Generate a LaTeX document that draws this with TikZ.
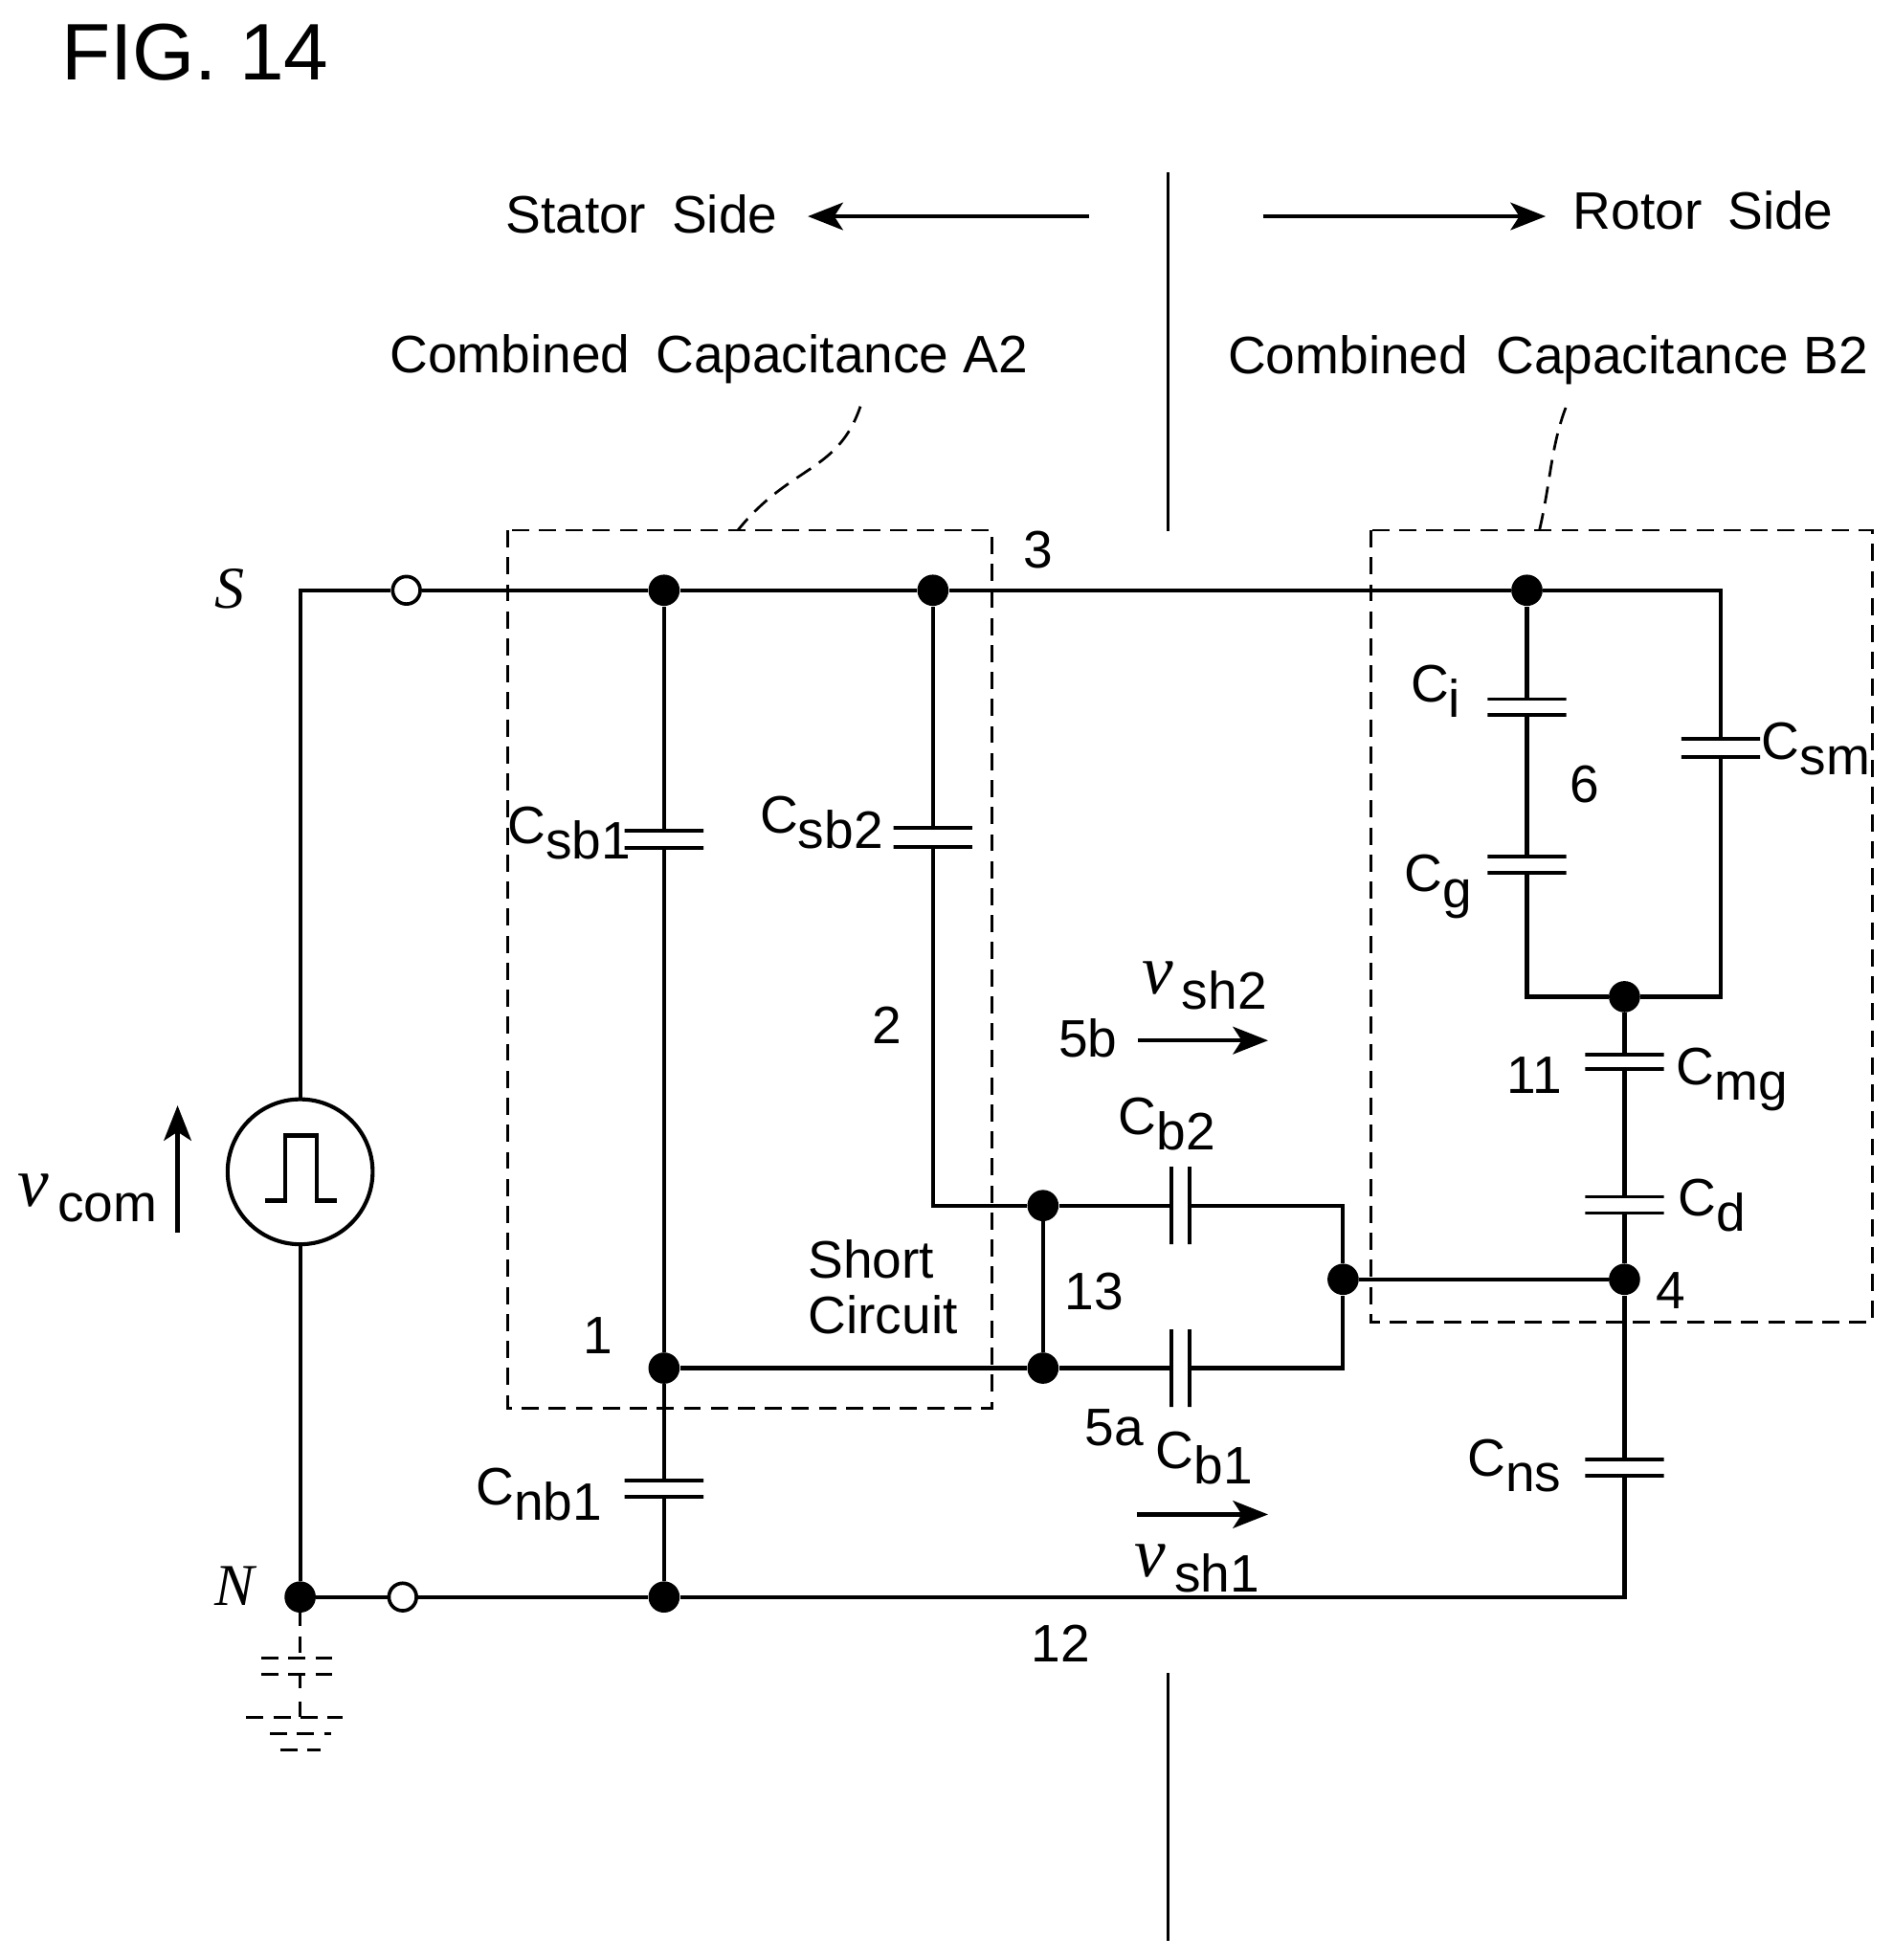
\documentclass[tikz,border=0pt]{standalone}
\usepackage{fontspec}
\setmainfont{Liberation Sans}
\newfontfamily\serifit[ItalicFont=Liberation Serif Italic]{Liberation Serif}
\usetikzlibrary{arrows.meta,calc,positioning}
\newcommand{\capname}[2]{#1\raisebox{-7pt}{#2}}
\newcommand{\voltname}[2]{\raisebox{7pt}{\fontsize{32}{32}\selectfont\serifit\itshape #1}\hspace{4pt}#2}
\tikzset{
  wire/.style={line width=1.8pt},
  gapline/.style={line width=1.3pt},
  dashwire/.style={line width=1.2pt, dash pattern=on 7.8pt off 4.5pt},
  gndwire/.style={line width=1.3pt, dash pattern=on 7.8pt off 4.5pt},
  dot/.style={circle, fill=black, inner sep=0pt, minimum size=0.5cm},
  opendot/.style={circle, draw=black, fill=white, line width=1.6pt, inner sep=0pt, minimum size=0.44cm},
  hplate/.style={rectangle, draw=black, line width=1.7pt, inner sep=0pt, minimum width=1.26cm, minimum height=0pt},
  vplate/.style={rectangle, draw=black, line width=1.7pt, inner sep=0pt, minimum width=0pt, minimum height=1.24cm},
  lbl/.style={inner sep=0pt, font=\fontsize{24}{25}\selectfont},
  letterlbl/.style={inner sep=0pt, font=\fontsize{27}{27}\selectfont\serifit\itshape},
  arrowline/.style={line width=1.8pt, -{Stealth[length=16pt,width=12.5pt,inset=4pt]}}
}
\begin{document}
\begin{tikzpicture}[x=0.02cm, y=-0.02cm]
    \useasboundingbox (0,0) rectangle (1513.6,1567.3);
    % headline and sides
    \node[inner sep=0pt, font=\fontsize{36.5}{40}\selectfont] (title) at (156,42) {FIG. 14};
    \node[lbl] (stator) at (513,171) {Stator\hspace{5pt} Side};
    \node[lbl] (rotor) at (1362,168) {Rotor\hspace{5pt} Side};
    \node[lbl] (comba) at (567,287) {Combined\hspace{5pt} Capacitance A2};
    \node[lbl] (combb) at (1238,288) {Combined\hspace{6pt} Capacitance B2};
    \coordinate (statorfrom) at (871,173);
    \coordinate (statorto) at (646,173);
    \coordinate (rotorfrom) at (1010,173);
    \coordinate (rotorto) at (1236,173);
    \draw[arrowline] (statorfrom) -- (statorto);
    \draw[arrowline] (rotorfrom) -- (rotorto);
    \coordinate (gaptop1) at (934,138);
    \coordinate (gaptop2) at (934,425);
    \coordinate (gapbot1) at (934,1338);
    \coordinate (gapbot2) at (934,1552);
    \draw[gapline] (gaptop1) -- (gaptop2);
    \draw[gapline] (gapbot1) -- (gapbot2);

    % combined capacitance boxes
    \coordinate (boxa1) at (406,424);
    \coordinate (boxa2) at (793,1126);
    \coordinate (boxb1) at (1096,424);
    \coordinate (boxb2) at (1497,1057);
    \draw[dashwire] (boxa1) rectangle (boxa2);
    \draw[dashwire] (boxb1) rectangle (boxb2);
    \coordinate (leada1) at (688,325);
    \coordinate (leada2) at (590,424);
    \coordinate (leadb1) at (1252,326);
    \coordinate (leadb2) at (1231,424);
    \draw[dashwire] (leada1) .. controls (670,378) and (632,372) .. (leada2);
    \draw[dashwire] (leadb1) .. controls (1240,358) and (1240,385) .. (leadb2);

    % junctions
    \node[opendot] (termS) at (325,472) {};
    \node[opendot] (termN) at (322,1277) {};
    \node[dot] (s1) at (531,472) {};
    \node[dot] (s2) at (746,472) {};
    \node[dot] (s3) at (1221,472) {};
    \node[dot] (n0) at (240,1277) {};
    \node[dot] (n1) at (531,1277) {};
    \node[dot] (mid1) at (531,1094) {};
    \node[dot] (sh1) at (834,1094) {};
    \node[dot] (sh2) at (834,964) {};
    \node[dot] (out) at (1074,1023) {};
    \node[dot] (shaft) at (1299,1023) {};
    \node[dot] (rotorpt) at (1299,797) {};
    \coordinate (cornS) at (240,472);
    \coordinate (cornR) at (1376,472);
    \coordinate (cornN) at (1299,1277);
    \coordinate (cornB2) at (746,964);
    \coordinate (corn2r) at (1074,964);
    \coordinate (corn1r) at (1074,1094);
    \coordinate (cornG) at (1221,797);
    \coordinate (cornM) at (1376,797);

    % capacitor plates
    \node[hplate] (csba) at (531,664) {};
    \node[hplate] (csbb) at (531,678) {};
    \node[hplate] (csca) at (746,662) {};
    \node[hplate] (cscb) at (746,677) {};
    \node[hplate] (cnba) at (531,1184) {};
    \node[hplate] (cnbb) at (531,1197) {};
    \node[vplate] (cbta) at (937,964) {};
    \node[vplate] (cbtb) at (951,964) {};
    \node[vplate] (cbla) at (937,1094) {};
    \node[vplate] (cblb) at (951,1094) {};
    \node[hplate] (cia) at (1221,559) {};
    \node[hplate] (cib) at (1221,572) {};
    \node[hplate] (cga) at (1221,685) {};
    \node[hplate] (cgb) at (1221,698) {};
    \node[hplate] (csma) at (1376,591) {};
    \node[hplate] (csmb) at (1376,605) {};
    \node[hplate] (cmga) at (1299,843) {};
    \node[hplate] (cmgb) at (1299,855) {};
    \node[hplate] (cda) at (1299,957) {};
    \node[hplate] (cdb) at (1299,970) {};
    \node[hplate] (cnsa) at (1299,1167) {};
    \node[hplate] (cnsb) at (1299,1180) {};

    % source
    \node[circle, draw=black, line width=1.8pt, fill=white, inner sep=0pt, minimum size=2.32cm] (source) at (240,937) {};
    \coordinate (p1) at (212,960);
    \coordinate (p2) at (228,960);
    \coordinate (p3) at (228,908);
    \coordinate (p4) at (253,908);
    \coordinate (p5) at (253,960);
    \coordinate (p6) at (269,960);
    \draw[wire] (p1) -- (p2) -- (p3) -- (p4) -- (p5) -- (p6);

    % wires
    \draw[wire] (source) -- (cornS) -- (termS) -- (s1) -- (s2) -- (s3) -- (cornR) -- (csma);
    \draw[wire] (source) -- (n0) -- (termN) -- (n1) -- (cornN) -- (cnsb);
    \draw[wire] (s1) -- (csba);
    \draw[wire] (csbb) -- (mid1) -- (cnba);
    \draw[wire] (cnbb) -- (n1);
    \draw[wire] (s2) -- (csca);
    \draw[wire] (cscb) -- (cornB2) -- (sh2) -- (cbta);
    \draw[wire] (cbtb) -- (corn2r) -- (out) -- (corn1r) -- (cblb);
    \draw[wire] (cbla) -- (sh1) -- (mid1);
    \draw[wire] (sh1) -- (sh2);
    \draw[wire] (out) -- (shaft);
    \draw[wire] (s3) -- (cia);
    \draw[wire] (cib) -- (cga);
    \draw[wire] (cgb) -- (cornG) -- (rotorpt) -- (cornM) -- (csmb);
    \draw[wire] (rotorpt) -- (cmga);
    \draw[wire] (cmgb) -- (cda);
    \draw[wire] (cdb) -- (shaft) -- (cnsa);

    % ground
    \coordinate (g1) at (240,1309);
    \coordinate (g2) at (240,1322);
    \coordinate (g3) at (240,1339);
    \coordinate (g4) at (240,1350);
    \coordinate (g5) at (240,1361);
    \coordinate (g6) at (240,1373);
    \coordinate (g7) at (209,1326);
    \coordinate (g8) at (266,1326);
    \coordinate (g9) at (209,1339);
    \coordinate (g10) at (266,1339);
    \coordinate (g11) at (197,1373);
    \coordinate (g12) at (274,1373);
    \coordinate (g13) at (216,1386);
    \coordinate (g14) at (265,1386);
    \coordinate (g15) at (224,1399);
    \coordinate (g16) at (256,1399);
    \draw[wire, line width=1.4pt] (n0) -- ($(n0)+(0,23)$);
    \draw[wire, line width=1.4pt] (g1) -- (g2);
    \draw[wire, line width=1.4pt] (g3) -- (g4);
    \draw[wire, line width=1.4pt] (g5) -- (g6);
    \draw[gndwire] (g7) -- (g8);
    \draw[gndwire] (g9) -- (g10);
    \draw[gndwire] (g11) -- (g12);
    \draw[gndwire] (g13) -- (g14);
    \draw[gndwire] (g15) -- (g16);

    % voltages
    \coordinate (vcom1) at (142,986);
    \coordinate (vcom2) at (142,884);
    \coordinate (vsh2a) at (910,832);
    \coordinate (vsh2b) at (1014,832);
    \coordinate (vsh1a) at (909,1211);
    \coordinate (vsh1b) at (1014,1211);
    \draw[arrowline] (vcom1) -- (vcom2);
    \draw[arrowline] (vsh2a) -- (vsh2b);
    \draw[arrowline] (vsh1a) -- (vsh1b);
    \node[lbl] (vcomlab) at (70,958) {\voltname{ν}{com}};
    \node[lbl] (vsh2lab) at (963,788) {\voltname{ν}{sh2}};
    \node[lbl] (vsh1lab) at (957,1254) {\voltname{ν}{sh1}};

    % labels
    \node[letterlbl] (labS) at (184,471) {S};
    \node[letterlbl] (labN) at (188,1268) {N};
    \node[lbl] (n3) at (830,440) {3};
    \node[lbl] (n2) at (709,820) {2};
    \node[lbl] (n1lab) at (478,1068) {1};
    \node[lbl] (n13) at (875,1033) {13};
    \node[lbl] (n5b) at (870,830) {5b};
    \node[lbl] (n5a) at (891,1142) {5a};
    \node[lbl] (n11) at (1227,860) {11};
    \node[lbl] (n6) at (1267,627) {6};
    \node[lbl] (n4) at (1336,1032) {4};
    \node[lbl] (n12) at (848,1314) {12};
    \node[lbl, align=left] (short) at (706,1029) {Short\\Circuit};
    \node[lbl] (lcsb1) at (455,666) {\capname{C}{sb1}};
    \node[lbl] (lcsb2) at (657,658) {\capname{C}{sb2}};
    \node[lbl] (lcnb1) at (431,1195) {\capname{C}{nb1}};
    \node[lbl] (lcb2) at (933,899) {\capname{C}{b2}};
    \node[lbl] (lcb1) at (963,1166) {\capname{C}{b1}};
    \node[lbl] (lci) at (1148,553) {\capname{C}{i}};
    \node[lbl] (lcg) at (1150,709) {\capname{C}{g}};
    \node[lbl] (lcsm) at (1452,599) {\capname{C}{sm}};
    \node[lbl] (lcmg) at (1385,863) {\capname{C}{mg}};
    \node[lbl] (lcd) at (1369,964) {\capname{C}{d}};
    \node[lbl] (lcns) at (1211,1172) {\capname{C}{ns}};
\end{tikzpicture}
\end{document}
